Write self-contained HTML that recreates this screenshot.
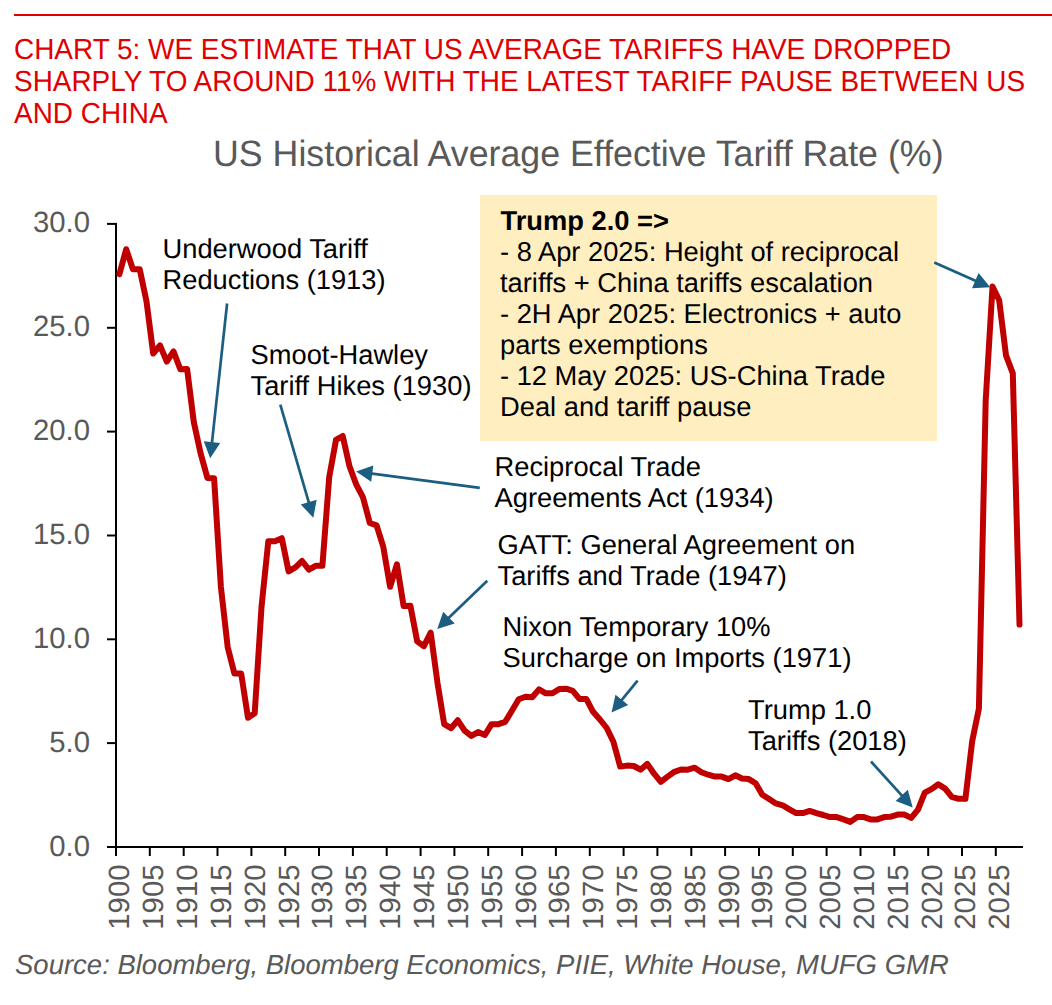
<!DOCTYPE html>
<html><head><meta charset="utf-8"><title>US Historical Average Effective Tariff Rate</title>
<style>
html,body{margin:0;padding:0;background:#fff;}
body{width:1052px;height:1005px;overflow:hidden;}
svg{display:block;}
text{font-family:'Liberation Sans', Arial, sans-serif;text-rendering:geometricPrecision;}
.hd{font-size:27.94px;fill:#E00000;}
.ti{font-size:35.75px;fill:#595959;}
.ax{font-size:29.3px;fill:#595959;}
.an{font-size:27.3px;fill:#000;}
.src{font-size:27.5px;fill:#595959;font-style:italic;}
</style></head>
<body>
<svg width="1052" height="1005" viewBox="0 0 1052 1005">
<rect x="14" y="14" width="1038" height="2" fill="#E00000"/>
<text transform="translate(14,59) scale(1,1.04)" class="hd">CHART 5: WE ESTIMATE THAT US AVERAGE TARIFFS HAVE DROPPED</text>
<text transform="translate(14,91) scale(1,1.04)" class="hd">SHARPLY TO AROUND 11% WITH THE LATEST TARIFF PAUSE BETWEEN US</text>
<text transform="translate(14,122.7) scale(1,1.04)" class="hd">AND CHINA</text>
<text transform="translate(213,166.1) scale(1,1.025)" class="ti">US Historical Average Effective Tariff Rate (%)</text>
<rect x="480" y="195" width="457" height="246" fill="#FFEEC0"/><text x="500.5" y="229.9" class="an" font-weight="bold">Trump 2.0 =&gt;</text><text x="500" y="260.8" class="an">- 8 Apr 2025: Height of reciprocal</text><text x="500" y="291.8" class="an">tariffs + China tariffs escalation</text><text x="500" y="322.8" class="an">- 2H Apr 2025: Electronics + auto</text><text x="500" y="353.8" class="an">parts exemptions</text><text x="500" y="384.8" class="an">- 12 May 2025: US-China Trade</text><text x="500" y="415.8" class="an">Deal and tariff pause</text>
<g stroke="#000" stroke-width="2">
<line x1="116" y1="223" x2="116" y2="848"/>
<line x1="107" y1="847" x2="1023" y2="847"/>
<line x1="107" x2="117" y1="847.0" y2="847.0"/><line x1="107" x2="117" y1="743.1" y2="743.1"/><line x1="107" x2="117" y1="639.3" y2="639.3"/><line x1="107" x2="117" y1="535.5" y2="535.5"/><line x1="107" x2="117" y1="431.6" y2="431.6"/><line x1="107" x2="117" y1="327.8" y2="327.8"/><line x1="107" x2="117" y1="223.9" y2="223.9"/>
<line x1="116.0" x2="116.0" y1="847" y2="856"/><line x1="149.8" x2="149.8" y1="847" y2="856"/><line x1="183.7" x2="183.7" y1="847" y2="856"/><line x1="217.5" x2="217.5" y1="847" y2="856"/><line x1="251.4" x2="251.4" y1="847" y2="856"/><line x1="285.2" x2="285.2" y1="847" y2="856"/><line x1="319.0" x2="319.0" y1="847" y2="856"/><line x1="352.9" x2="352.9" y1="847" y2="856"/><line x1="386.7" x2="386.7" y1="847" y2="856"/><line x1="420.6" x2="420.6" y1="847" y2="856"/><line x1="454.4" x2="454.4" y1="847" y2="856"/><line x1="488.2" x2="488.2" y1="847" y2="856"/><line x1="522.1" x2="522.1" y1="847" y2="856"/><line x1="555.9" x2="555.9" y1="847" y2="856"/><line x1="589.8" x2="589.8" y1="847" y2="856"/><line x1="623.6" x2="623.6" y1="847" y2="856"/><line x1="657.4" x2="657.4" y1="847" y2="856"/><line x1="691.3" x2="691.3" y1="847" y2="856"/><line x1="725.1" x2="725.1" y1="847" y2="856"/><line x1="759.0" x2="759.0" y1="847" y2="856"/><line x1="792.8" x2="792.8" y1="847" y2="856"/><line x1="826.6" x2="826.6" y1="847" y2="856"/><line x1="860.5" x2="860.5" y1="847" y2="856"/><line x1="894.3" x2="894.3" y1="847" y2="856"/><line x1="928.2" x2="928.2" y1="847" y2="856"/><line x1="962.0" x2="962.0" y1="847" y2="856"/><line x1="995.8" x2="995.8" y1="847" y2="856"/>
</g>
<text x="90" y="855.5" class="ax" text-anchor="end">0.0</text>
<text x="90" y="751.6" class="ax" text-anchor="end">5.0</text>
<text x="90" y="647.8" class="ax" text-anchor="end">10.0</text>
<text x="90" y="544.0" class="ax" text-anchor="end">15.0</text>
<text x="90" y="440.1" class="ax" text-anchor="end">20.0</text>
<text x="90" y="336.2" class="ax" text-anchor="end">25.0</text>
<text x="90" y="232.4" class="ax" text-anchor="end">30.0</text>

<text class="ax" text-anchor="end" transform="translate(129.4,864.5) rotate(-90)">1900</text>
<text class="ax" text-anchor="end" transform="translate(163.2,864.5) rotate(-90)">1905</text>
<text class="ax" text-anchor="end" transform="translate(197.1,864.5) rotate(-90)">1910</text>
<text class="ax" text-anchor="end" transform="translate(230.9,864.5) rotate(-90)">1915</text>
<text class="ax" text-anchor="end" transform="translate(264.7,864.5) rotate(-90)">1920</text>
<text class="ax" text-anchor="end" transform="translate(298.6,864.5) rotate(-90)">1925</text>
<text class="ax" text-anchor="end" transform="translate(332.4,864.5) rotate(-90)">1930</text>
<text class="ax" text-anchor="end" transform="translate(366.3,864.5) rotate(-90)">1935</text>
<text class="ax" text-anchor="end" transform="translate(400.1,864.5) rotate(-90)">1940</text>
<text class="ax" text-anchor="end" transform="translate(433.9,864.5) rotate(-90)">1945</text>
<text class="ax" text-anchor="end" transform="translate(467.8,864.5) rotate(-90)">1950</text>
<text class="ax" text-anchor="end" transform="translate(501.6,864.5) rotate(-90)">1955</text>
<text class="ax" text-anchor="end" transform="translate(535.5,864.5) rotate(-90)">1960</text>
<text class="ax" text-anchor="end" transform="translate(569.3,864.5) rotate(-90)">1965</text>
<text class="ax" text-anchor="end" transform="translate(603.1,864.5) rotate(-90)">1970</text>
<text class="ax" text-anchor="end" transform="translate(637.0,864.5) rotate(-90)">1975</text>
<text class="ax" text-anchor="end" transform="translate(670.8,864.5) rotate(-90)">1980</text>
<text class="ax" text-anchor="end" transform="translate(704.7,864.5) rotate(-90)">1985</text>
<text class="ax" text-anchor="end" transform="translate(738.5,864.5) rotate(-90)">1990</text>
<text class="ax" text-anchor="end" transform="translate(772.3,864.5) rotate(-90)">1995</text>
<text class="ax" text-anchor="end" transform="translate(806.2,864.5) rotate(-90)">2000</text>
<text class="ax" text-anchor="end" transform="translate(840.0,864.5) rotate(-90)">2005</text>
<text class="ax" text-anchor="end" transform="translate(873.9,864.5) rotate(-90)">2010</text>
<text class="ax" text-anchor="end" transform="translate(907.7,864.5) rotate(-90)">2015</text>
<text class="ax" text-anchor="end" transform="translate(941.5,864.5) rotate(-90)">2020</text>
<text class="ax" text-anchor="end" transform="translate(975.4,864.5) rotate(-90)">2025</text>
<text class="ax" text-anchor="end" transform="translate(1009.2,864.5) rotate(-90)">2025</text>

<polyline points="119.4,274.2 126.2,249.2 132.9,269.2 139.7,269.2 146.5,301.4 153.2,353.5 160.0,345.4 166.8,361.6 173.5,351.4 180.3,369.3 187.1,368.9 193.8,422.0 200.6,453.4 207.4,477.9 214.1,478.3 220.9,587.0 227.7,647.2 234.4,673.6 241.2,673.6 248.0,717.8 254.7,713.2 261.5,607.1 268.3,541.3 275.0,541.3 281.8,538.2 288.6,571.4 295.4,567.4 302.1,561.0 308.9,569.7 315.7,565.8 322.4,565.8 329.2,477.3 336.0,439.9 342.7,436.0 349.5,466.3 356.3,484.6 363.0,497.4 369.8,523.0 376.6,525.3 383.3,546.9 390.1,586.8 396.9,564.3 403.6,605.9 410.4,605.7 417.2,641.4 423.9,646.2 430.7,632.7 437.5,682.9 444.2,724.2 451.0,728.2 457.8,720.3 464.6,730.7 471.3,735.9 478.1,732.1 484.9,735.0 491.6,724.2 498.4,724.2 505.2,721.8 511.9,710.7 518.7,699.3 525.5,696.8 532.2,697.2 539.0,689.4 545.8,693.3 552.5,693.3 559.3,688.9 566.1,688.7 572.8,690.8 579.6,699.1 586.4,699.1 593.1,711.8 599.9,719.5 606.7,728.0 613.4,741.7 620.2,766.6 627.0,765.6 633.8,766.0 640.5,769.7 647.3,763.9 654.1,773.7 660.8,781.8 667.6,776.6 674.4,771.8 681.1,769.5 687.9,769.7 694.7,767.7 701.4,772.2 708.2,774.7 715.0,776.6 721.7,776.6 728.5,779.1 735.3,775.3 742.0,778.5 748.8,779.1 755.6,783.2 762.3,794.7 769.1,799.0 775.9,803.4 782.6,805.3 789.4,809.4 796.2,813.1 803.0,813.1 809.7,810.9 816.5,813.1 823.3,815.0 830.0,817.1 836.8,817.1 843.6,819.4 850.3,821.9 857.1,817.1 863.9,817.1 870.6,819.4 877.4,819.4 884.2,817.1 890.9,816.7 897.7,814.6 904.5,814.6 911.2,817.9 918.0,809.6 924.8,792.6 931.5,789.1 938.3,784.3 945.1,788.6 951.8,796.9 958.6,798.8 965.4,798.8 972.2,741.1 978.9,708.7 985.7,400.4 992.5,286.6 999.2,300.3 1006.0,355.4 1012.8,373.4 1019.5,624.6" fill="none" stroke="#C00000" stroke-width="6" stroke-linejoin="round" stroke-linecap="round"/>
<line x1="227.1" y1="303.5" x2="211.8" y2="444.1" stroke="#1B5E82" stroke-width="2.7"/><polygon fill="#1B5E82" points="210.2,458.3 203.8,441.2 220.2,443.0"/><line x1="280.3" y1="404.7" x2="309.3" y2="504.1" stroke="#1B5E82" stroke-width="2.7"/><polygon fill="#1B5E82" points="313.3,517.8 300.8,504.5 316.7,499.8"/><line x1="479.8" y1="487.8" x2="370.3" y2="473.3" stroke="#1B5E82" stroke-width="2.7"/><polygon fill="#1B5E82" points="356.1,471.4 373.3,465.4 371.2,481.7"/><line x1="487.3" y1="580.8" x2="447.5" y2="619.0" stroke="#1B5E82" stroke-width="2.7"/><polygon fill="#1B5E82" points="437.2,628.9 443.2,611.7 454.7,623.6"/><line x1="637.6" y1="680.7" x2="620.6" y2="701.4" stroke="#1B5E82" stroke-width="2.7"/><polygon fill="#1B5E82" points="611.5,712.5 615.5,694.7 628.2,705.1"/><line x1="871.0" y1="761.5" x2="903.1" y2="796.8" stroke="#1B5E82" stroke-width="2.7"/><polygon fill="#1B5E82" points="912.7,807.4 895.6,800.9 907.8,789.8"/><line x1="934.3" y1="262.5" x2="977.1" y2="281.4" stroke="#1B5E82" stroke-width="2.7"/><polygon fill="#1B5E82" points="990.2,287.2 972.0,288.2 978.6,273.1"/>
<text x="162.5" y="257.7" class="an">Underwood Tariff</text><text x="162.5" y="288.7" class="an">Reductions (1913)</text><text x="250.5" y="364.0" class="an">Smoot-Hawley</text><text x="250.5" y="395.0" class="an">Tariff Hikes (1930)</text><text x="494.5" y="476.1" class="an">Reciprocal Trade</text><text x="494.5" y="507.1" class="an">Agreements Act (1934)</text><text x="497.5" y="554.0" class="an">GATT: General Agreement on</text><text x="497.5" y="585.0" class="an">Tariffs and Trade (1947)</text><text x="502.5" y="636.2" class="an">Nixon Temporary 10%</text><text x="502.5" y="667.2" class="an">Surcharge on Imports (1971)</text><text x="748.0" y="718.7" class="an">Trump 1.0</text><text x="748.0" y="749.7" class="an">Tariffs (2018)</text>
<text x="15" y="973.9" class="src">Source: Bloomberg, Bloomberg Economics, PIIE, White House, MUFG GMR</text>
</svg>
</body></html>
